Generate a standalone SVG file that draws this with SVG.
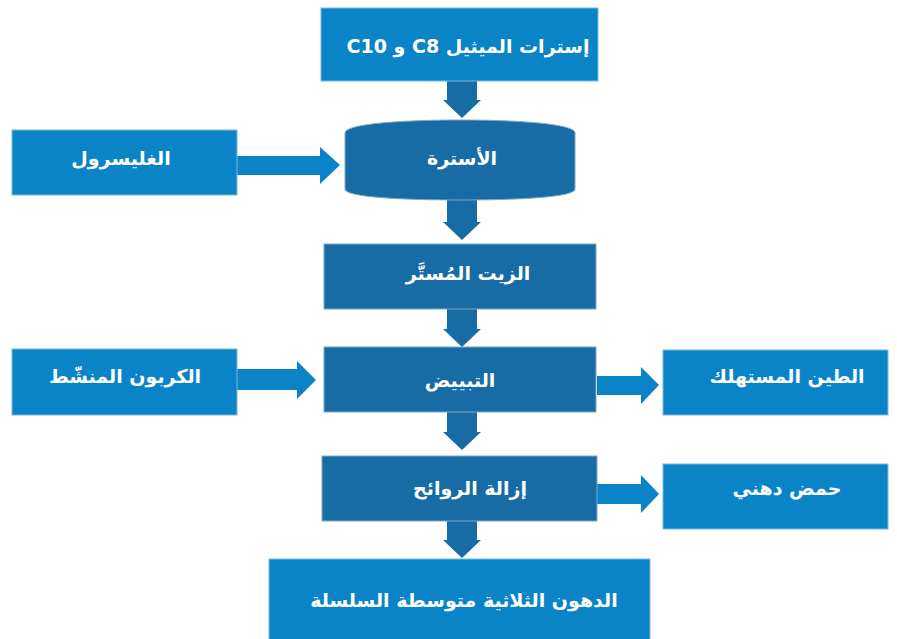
<svg xmlns="http://www.w3.org/2000/svg" width="897" height="639" viewBox="0 0 897 639">
<style>
.lt{fill:#0a84c6;stroke:#7fb8dc;stroke-width:1}
.dk{fill:#176ca5;stroke:#7fa8c8;stroke-width:1}
.al{fill:#0a84c6}
.ad{fill:#176ca5}
text{font-family:"DejaVu Sans","Noto Sans",sans-serif;font-weight:bold;font-size:19px;fill:#ffffff;text-anchor:middle}
</style>
<rect width="897" height="639" fill="#ffffff"/>
<g id="connectors">
<polygon class="ad" points="447,81 477,81 477,100 481,100 462,118 443,100 447,100"/>
<polygon class="ad" points="447,200 477,200 477,222 481,222 462,240 443,222 447,222"/>
<polygon class="ad" points="447,309 477,309 477,329 481,329 462,347 443,329 447,329"/>
<polygon class="ad" points="447,412 477,412 477,432 481,432 462,450 443,432 447,432"/>
<polygon class="ad" points="447,521 477,521 477,540 481,540 462,558 443,540 447,540"/>
<polygon class="al" points="237,156 320,156 320,147 340,165 320,184 320,175 237,175"/>
<polygon class="al" points="237,369 297,369 297,361 316,380 297,399 297,390 237,390"/>
<polygon class="al" points="597,376 641,376 641,367 659,385 641,404 641,395 597,395"/>
<polygon class="al" points="597,484 641,484 641,475 659,494 641,513 641,504 597,504"/>
</g>
<g id="n-methyl-esters">
<rect class="lt" x="321" y="8" width="277" height="73"/>
<text x="468" y="53" direction="rtl">إسترات الميثيل C8 و C10</text>
</g>
<g id="n-esterification">
<path class="dk" d="M345,133 C345,124 400,120 460,120 C520,120 575,124 575,133 L575,189 C575,197 520,200 460,200 C400,200 345,197 345,189 Z"/>
<text x="462" y="165" direction="rtl">الأسترة</text>
</g>
<g id="n-glycerol">
<rect class="lt" x="12" y="130" width="225" height="65"/>
<text x="121" y="165" direction="rtl">الغليسرول</text>
</g>
<g id="n-esterified-oil">
<rect class="dk" x="324" y="244" width="272" height="65"/>
<text x="468" y="280" direction="rtl">الزيت المُستَّر</text>
</g>
<g id="n-bleaching">
<rect class="dk" x="324" y="347" width="272" height="65"/>
<text x="460" y="387" direction="rtl">التبييض</text>
</g>
<g id="n-activated-carbon">
<rect class="lt" x="12" y="349" width="225" height="66"/>
<text x="125" y="383" direction="rtl">الكربون المنشّط</text>
</g>
<g id="n-spent-clay">
<rect class="lt" x="663" y="350" width="225" height="65"/>
<text x="787" y="383" direction="rtl">الطين المستهلك</text>
</g>
<g id="n-deodorization">
<rect class="dk" x="322" y="456" width="275" height="65"/>
<text x="470" y="495" direction="rtl">إزالة الروائح</text>
</g>
<g id="n-fatty-acid">
<rect class="lt" x="663" y="464" width="225" height="65"/>
<text x="787" y="495" direction="rtl">حمض دهني</text>
</g>
<g id="n-mct">
<rect class="lt" x="269" y="559" width="381" height="82"/>
<text x="464" y="607" direction="rtl">الدهون الثلاثية متوسطة السلسلة</text>
</g>
</svg>
